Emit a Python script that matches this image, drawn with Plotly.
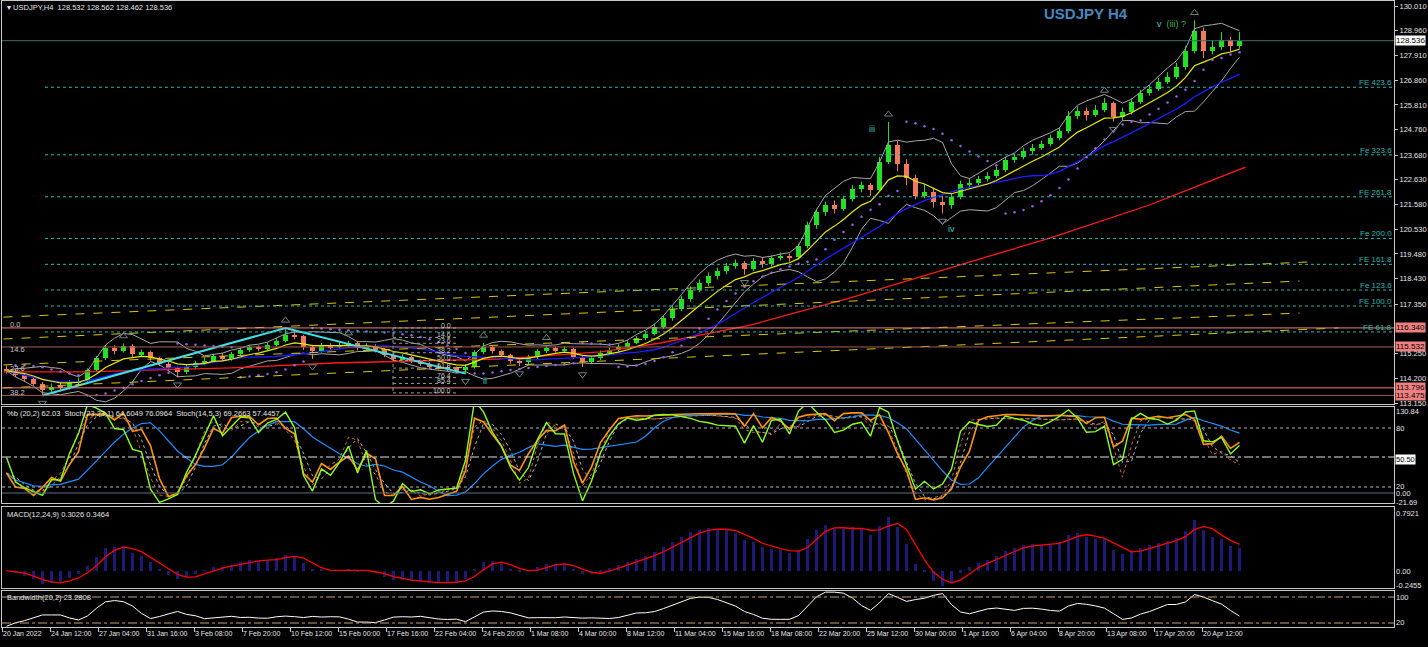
import numpy as np
import pandas as pd
import plotly.graph_objects as go

# ---------------- DATA (12-hour candles) ----------------
first_open = 114.60
closes = [114.52, 114.35, 114.18, 113.98, 113.72, 113.85, 113.80, 114.02, 114.10, 114.55,
          115.05, 115.50, 115.38, 115.58, 115.22, 115.30, 115.05, 114.82, 114.62, 114.45,
          114.70, 114.85, 114.95, 115.15, 115.02, 115.22, 115.40, 115.52, 115.45, 115.62,
          115.80, 116.05, 115.98, 115.55, 115.35, 115.60, 115.52, 115.62, 115.70, 115.48,
          115.58, 115.40, 115.18, 115.02, 115.10, 114.92, 114.82, 114.70, 114.68, 114.62,
          114.55, 114.70, 115.30, 115.52, 115.35, 115.20, 114.95, 114.88, 115.10, 115.35,
          115.48, 115.40, 115.45, 115.12, 114.90, 115.05, 115.28, 115.40, 115.55, 115.72,
          115.90, 116.10, 116.40, 116.75, 117.15, 117.55, 117.95, 118.25, 118.55, 118.75,
          118.95, 119.10, 118.85, 119.20, 119.05, 119.30, 119.40, 119.35, 119.80, 120.70,
          121.25, 121.55, 121.40, 121.80, 122.25, 122.40, 122.20, 123.40, 124.10, 123.30,
          122.70, 121.95, 122.10, 121.70, 121.55, 121.90, 122.45, 122.50, 122.65, 122.80,
          123.05, 123.45, 123.60, 123.85, 124.00, 124.15, 124.40, 124.70, 125.35, 125.55,
          125.40, 125.60, 125.90, 125.30, 125.50, 125.95, 126.30, 126.50, 126.80, 127.00,
          127.40, 128.10, 128.95, 128.10, 128.25, 128.55, 128.30, 128.536]
highs = [114.75, 114.60, 114.42, 114.25, 114.05, 113.98, 114.00, 114.12, 114.22, 114.62,
         115.15, 115.62, 115.60, 115.68, 115.65, 115.42, 115.38, 115.12, 114.90, 114.70,
         114.80, 114.95, 115.08, 115.25, 115.28, 115.32, 115.50, 115.62, 115.60, 115.72,
         115.90, 116.34, 116.25, 116.05, 115.62, 115.70, 115.68, 115.75, 115.80, 115.78,
         115.68, 115.65, 115.48, 115.25, 115.22, 115.15, 115.00, 114.88, 114.80, 114.75,
         114.70, 114.80, 115.40, 115.70, 115.60, 115.42, 115.25, 115.05, 115.20, 115.45,
         115.60, 115.55, 115.55, 115.50, 115.18, 115.15, 115.38, 115.50, 115.65, 115.82,
         116.00, 116.22, 116.52, 116.88, 117.28, 117.70, 118.10, 118.40, 118.70, 118.90,
         119.10, 119.25, 119.18, 119.30, 119.35, 119.42, 119.55, 119.50, 119.92, 120.85,
         121.40, 121.70, 121.75, 121.95, 122.40, 122.55, 122.50, 123.60, 125.09, 124.30,
         123.50, 122.85, 122.45, 122.30, 121.95, 122.05, 122.60, 122.70, 122.80, 122.95,
         123.20, 123.60, 123.75, 124.00, 124.15, 124.30, 124.55, 124.85, 125.55, 125.75,
         125.70, 125.80, 126.10, 125.95, 125.70, 126.10, 126.45, 126.65, 126.95, 127.20,
         127.60, 128.30, 129.40, 129.10, 128.55, 128.90, 128.70, 128.90]
lows = [114.40, 114.25, 114.05, 113.88, 113.47, 113.60, 113.68, 113.72, 113.90, 114.02,
        114.48, 114.98, 115.22, 115.30, 115.10, 115.12, 114.95, 114.72, 114.50, 114.25,
        114.38, 114.60, 114.75, 114.88, 114.92, 114.95, 115.15, 115.32, 115.35, 115.38,
        115.55, 115.72, 115.85, 115.40, 115.02, 115.28, 115.40, 115.45, 115.55, 115.38,
        115.40, 115.30, 115.10, 114.92, 114.95, 114.85, 114.72, 114.62, 114.58, 114.50,
        114.42, 114.40, 114.62, 115.22, 115.25, 115.10, 114.82, 114.72, 114.80, 115.02,
        115.28, 115.30, 115.32, 115.02, 114.68, 114.80, 114.98, 115.20, 115.32, 115.48,
        115.65, 115.82, 116.02, 116.30, 116.65, 117.05, 117.45, 117.85, 118.12, 118.40,
        118.62, 118.85, 118.60, 118.75, 118.90, 118.95, 119.20, 119.15, 119.25, 119.72,
        120.55, 121.10, 121.20, 121.30, 121.70, 122.10, 121.95, 122.15, 123.30, 123.00,
        122.40, 121.80, 121.85, 121.45, 121.20, 121.40, 121.80, 122.25, 122.35, 122.55,
        122.70, 122.95, 123.35, 123.50, 123.70, 123.90, 124.05, 124.30, 124.60, 125.20,
        125.15, 125.30, 125.50, 125.10, 125.15, 125.40, 125.85, 126.20, 126.40, 126.70,
        126.90, 127.30, 128.00, 127.80, 127.95, 128.15, 128.05, 128.20]

# long moving average (red), read at H4 bar numbers
red_ma_bar = [0, 27, 76, 110, 165, 199, 219, 232, 249, 265, 282, 299, 315, 332, 349, 365, 382, 399, 414]
red_ma_val = [114.47, 114.47, 114.64, 114.85, 115.02, 115.32, 115.70, 116.04, 116.46, 117.02,
              117.61, 118.25, 118.88, 119.52, 120.16, 120.84, 121.56, 122.41, 123.17]

# zigzag A-B-C (H4 bar numbers / prices)
zz_bar = [13, 94, 154]
zz_val = [113.47, 116.34, 114.40]

# Fibonacci expansion levels
fe_names = ["FE 423.6", "Fe 323.6", "FE 261.8", "Fe 200.0", "FE 161.8", "Fe 123.6", "FE 100.0", "FE 61.8"]
fe_vals = [126.56, 123.69, 121.91, 120.14, 119.04, 117.95, 117.27, 116.17]

# Fibonacci retracement (middle)
fib_ratios = [0.0, 14.6, 23.6, 38.2, 50.0, 61.8, 76.4, 85.4, 100.0]
fib_high, fib_low = 116.34, 113.58

# horizontal levels
hl_vals = [116.340, 115.532, 113.796, 113.475]
last_price = 128.536

# yellow fan lines: (bar0, price0, bar1, price1)
fan_bar0 = [0, 0, 0, 0]
fan_val0 = [116.80, 115.87, 114.77, 113.79]
fan_bar1 = [435, 432, 432, 445]
fan_val1 = [119.14, 118.33, 116.97, 116.34]

# time axis labels every 16 H4 bars
tick_labels = ["20 Jan 2022", "24 Jan 12:00", "27 Jan 04:00", "31 Jan 16:00", "3 Feb 08:00",
               "7 Feb 20:00", "10 Feb 12:00", "15 Feb 00:00", "17 Feb 16:00", "22 Feb 04:00",
               "24 Feb 20:00", "1 Mar 08:00", "4 Mar 00:00", "8 Mar 12:00", "11 Mar 04:00",
               "15 Mar 16:00", "18 Mar 08:00", "22 Mar 20:00", "25 Mar 12:00", "30 Mar 00:00",
               "1 Apr 16:00", "6 Apr 04:00", "8 Apr 20:00", "13 Apr 08:00", "17 Apr 20:00",
               "20 Apr 12:00"]
price_ticks = [130.010, 128.960, 127.910, 126.860, 125.810, 124.760, 123.680, 122.630,
               121.580, 120.530, 119.480, 118.430, 117.350, 115.250, 114.200, 113.150]

# ---------------- layout geometry ----------------
W, H = 1428, 647
ML, MR, MT, MB = 2, 34, 1, 20
PH = H - MT - MB
FONT = "Liberation Sans Narrow, Arial Narrow, Liberation Sans, Arial, sans-serif"
TXT = "#e6e6e6"
FRAME = "#c8c8c8"
FS = 7.5

def pyp(y):  # pixel row -> paper
    return (H - MB - y) / PH

def bx(px):  # pixel col -> bar
    return (px - 3.5) / 3.0

def pp(py):  # pixel row -> price (main panel)
    return 130.01 - (py - 6) / 23.55

XR = [-0.5, 463.5]

# ---------------- derived series ----------------
n = len(closes)
bars = [3 * k + 1 for k in range(n)]
opens = [first_open] + closes[:-1]
c = pd.Series(closes); hs = pd.Series(highs); ls = pd.Series(lows)

ema_y = c.ewm(span=7, adjust=False).mean()
sma_b = c.rolling(17, min_periods=1).mean()
mid = c.rolling(7, min_periods=1).mean()
sd = c.rolling(7, min_periods=2).std(ddof=0).fillna(0)
bb_up = mid + 2 * sd
bb_dn = mid - 2 * sd

def psar(h, l, step=0.02, mx=0.2):
    out = [None] * len(h)
    up = True; af = step; ep = h[0]; s = l[0]
    for i in range(1, len(h)):
        s = s + af * (ep - s)
        if up:
            s = min(s, l[i - 1], l[max(i - 2, 0)])
            if l[i] < s:
                up = False; s = ep; ep = l[i]; af = step
            elif h[i] > ep:
                ep = h[i]; af = min(af + step, mx)
        else:
            s = max(s, h[i - 1], h[max(i - 2, 0)])
            if h[i] > s:
                up = True; s = ep; ep = h[i]; af = step
            elif l[i] < ep:
                ep = l[i]; af = min(af + step, mx)
        out[i] = s
    return out

sar = psar(highs, lows)

fu_x, fu_y, fd_x, fd_y = [], [], [], []
for i in range(2, n - 2):
    if highs[i] == max(highs[i - 2:i + 3]):
        fu_x.append(bars[i]); fu_y.append(highs[i] + 0.32)
    if lows[i] == min(lows[i - 2:i + 3]):
        fd_x.append(bars[i]); fd_y.append(lows[i] - 0.32)

width_bb = (bb_up - bb_dn).replace(0, np.nan)
pct_b = ((c - bb_dn) / width_bb * 100).fillna(50)
ll8 = ls.rolling(8, min_periods=1).min(); hh8 = hs.rolling(8, min_periods=1).max()
st_main = ((c - ll8) / (hh8 - ll8) * 100).fillna(50)
st_sig = st_main.rolling(8, min_periods=1).mean()
ll5 = ls.rolling(5, min_periods=1).min(); hh5 = hs.rolling(5, min_periods=1).max()
st2_main = ((c - ll5).rolling(2, min_periods=1).sum() / (hh5 - ll5).rolling(2, min_periods=1).sum() * 100).fillna(50)
st2_sig = st2_main.rolling(2, min_periods=1).mean()

macd = c.ewm(span=4, adjust=False).mean() - c.ewm(span=8, adjust=False).mean()
macd_sig = macd.rolling(3, min_periods=1).mean()

bw = (bb_up - bb_dn) / mid * 100
bw_n = 10 + (bw - bw.min()) / (bw.max() - bw.min()) * 105

# ---------------- figure ----------------
fig = go.Figure()

bull = [cl >= op for op, cl in zip(opens, closes)]
BULL, BEAR = "#22e022", "#f27a5c"
for flag, col in ((True, BULL), (False, BEAR)):
    idx = [i for i in range(n) if bull[i] == flag]
    wx, wy = [], []
    for i in idx:
        wx += [bars[i], bars[i], None]
        wy += [lows[i], highs[i], None]
    fig.add_trace(go.Scatter(x=wx, y=wy, mode="lines", line=dict(color=col, width=1),
                             hoverinfo="skip", xaxis="x", yaxis="y"))
    fig.add_trace(go.Bar(x=[bars[i] for i in idx],
                         y=[max(abs(closes[i] - opens[i]), 0.02) for i in idx],
                         base=[min(opens[i], closes[i]) for i in idx],
                         width=1.4, marker=dict(color=col, line=dict(width=0)),
                         xaxis="x", yaxis="y"))

fig.add_trace(go.Scatter(x=bars, y=bb_up, mode="lines", line=dict(color="#a8a8a8", width=1), xaxis="x", yaxis="y"))
fig.add_trace(go.Scatter(x=bars, y=bb_dn, mode="lines", line=dict(color="#a8a8a8", width=1), xaxis="x", yaxis="y"))
fig.add_trace(go.Scatter(x=red_ma_bar, y=red_ma_val, mode="lines", line=dict(color="#ff1a1a", width=1.3), xaxis="x", yaxis="y"))
fig.add_trace(go.Scatter(x=bars, y=sma_b, mode="lines", line=dict(color="#1c1cff", width=1.3), xaxis="x", yaxis="y"))
fig.add_trace(go.Scatter(x=bars, y=ema_y, mode="lines", line=dict(color="#e8e800", width=1.2), xaxis="x", yaxis="y"))
fig.add_trace(go.Scatter(x=bars, y=sar, mode="markers", marker=dict(color="#9b5fe0", size=2.5), xaxis="x", yaxis="y"))
fig.add_trace(go.Scatter(x=fu_x, y=fu_y, mode="markers",
                         marker=dict(symbol="triangle-up-open", color="#6f7f80", size=7, line=dict(width=1)),
                         xaxis="x", yaxis="y"))
fig.add_trace(go.Scatter(x=fd_x, y=fd_y, mode="markers",
                         marker=dict(symbol="triangle-down-open", color="#6f7f80", size=7, line=dict(width=1)),
                         xaxis="x", yaxis="y"))
fig.add_trace(go.Scatter(x=zz_bar, y=zz_val, mode="lines", line=dict(color="#40e0e8", width=2), xaxis="x", yaxis="y"))

fig.add_trace(go.Scatter(x=bars, y=st2_sig, mode="lines", line=dict(color="#b0b0b0", width=1, dash="dot"), xaxis="x2", yaxis="y2"))
fig.add_trace(go.Scatter(x=bars, y=st2_main, mode="lines", line=dict(color="#d2691e", width=1, dash="dot"), xaxis="x2", yaxis="y2"))
fig.add_trace(go.Scatter(x=bars, y=st_sig, mode="lines", line=dict(color="#1e90ff", width=1.2), xaxis="x2", yaxis="y2"))
fig.add_trace(go.Scatter(x=bars, y=st_main, mode="lines", line=dict(color="#ff9410", width=1.6), xaxis="x2", yaxis="y2"))
fig.add_trace(go.Scatter(x=bars, y=pct_b, mode="lines", line=dict(color="#8cff1a", width=1.4), xaxis="x2", yaxis="y2"))

fig.add_trace(go.Bar(x=bars, y=macd, width=1.0, marker=dict(color="#1c1c78", line=dict(width=0)), xaxis="x3", yaxis="y3"))
fig.add_trace(go.Scatter(x=bars, y=macd_sig, mode="lines", line=dict(color="#ff0000", width=1.3), xaxis="x3", yaxis="y3"))

fig.add_trace(go.Scatter(x=bars, y=bw_n, mode="lines", line=dict(color="#ffffff", width=1), xaxis="x4", yaxis="y4"))

shapes = []
ann = []

for b0, v0, b1, v1 in zip(fan_bar0, fan_val0, fan_bar1, fan_val1):
    shapes.append(dict(type="line", xref="x", yref="y", x0=b0, y0=v0, x1=b1, y1=v1,
                       line=dict(color="#d8c800", width=1, dash="dash")))
for name, v in zip(fe_names, fe_vals):
    shapes.append(dict(type="line", xref="x", yref="y", x0=bx(45), x1=XR[1], y0=v, y1=v,
                       line=dict(color="#2ab8b0", width=1, dash="dot")))
    ann.append(dict(x=XR[1], y=v, xref="x", yref="y", text=name, showarrow=False,
                    xanchor="right", yanchor="bottom", yshift=-2,
                    font=dict(family=FONT, size=8, color="#2ab8b0")))
hl_cols = ["#f08080", "#a85a55", "#f08080", "#a85a55"]
for v, col in zip(hl_vals, hl_cols):
    shapes.append(dict(type="line", xref="paper", yref="y", x0=0, x1=1, y0=v, y1=v,
                       line=dict(color=col, width=1)))
    ann.append(dict(x=1, y=v, xref="paper", yref="y", text=f"{v:.3f}", showarrow=False,
                    xanchor="left", yanchor="middle", xshift=1, bgcolor="#f08080", borderpad=0,
                    font=dict(family=FONT, size=8, color="#000000")))
shapes.append(dict(type="line", xref="paper", yref="y", x0=0, x1=1, y0=last_price, y1=last_price,
                   line=dict(color="#3f6e6e", width=1)))
ann.append(dict(x=1, y=last_price, xref="paper", yref="y", text=f"{last_price:.3f}", showarrow=False,
                xanchor="left", yanchor="middle", xshift=1, bgcolor="#ffffff", borderpad=0,
                font=dict(family=FONT, size=8, color="#000000")))

fx0, fx1 = bx(393), bx(456)
shapes.append(dict(type="line", xref="x", yref="y", x0=fx0, x1=fx0, y0=fib_high, y1=fib_low,
                   line=dict(color="#9a9a9a", width=1, dash="dot")))
for r in fib_ratios:
    v = fib_high - r / 100 * (fib_high - fib_low)
    shapes.append(dict(type="line", xref="x", yref="y", x0=fx0, x1=fx1, y0=v, y1=v,
                       line=dict(color="#9a9a9a", width=1, dash="dot")))
    ann.append(dict(x=fx1 - 1, y=v, xref="x", yref="y", text=f"{r:.1f}", showarrow=False,
                    xanchor="right", yanchor="bottom", yshift=-3,
                    font=dict(family=FONT, size=7, color="#c8c8c8")))
for t, ypx in (("0.0", 324), ("14.6", 349), ("23.6", 368), ("38.2", 392)):
    ann.append(dict(x=bx(8), y=pp(ypx), xref="x", yref="y", text=t, showarrow=False,
                    xanchor="left", yanchor="middle", font=dict(family=FONT, size=FS, color="#c8c8c8")))

for t, xp, ypx, col in (("iii", 872, 129, "#3cc8b8"), ("iv", 951, 229, "#3cc8b8"),
                        ("ii", 485, 381, "#3cc8b8")):
    ann.append(dict(x=bx(xp), y=pp(ypx), xref="x", yref="y", text=t, showarrow=False,
                    yanchor="middle", font=dict(family=FONT, size=9, color=col)))
ann.append(dict(x=bx(1155), y=pp(24), xref="x", yref="y", xanchor="left", yanchor="middle",
                text="<span style='color:#3cc8b8'>v</span>  <span style='color:#3cb04a'>(iii) ?</span>",
                showarrow=False, font=dict(family=FONT, size=9, color="#3cb04a")))

ann.append(dict(x=bx(1042), y=pyp(13), xref="x", yref="paper", text="<b>USDJPY H4</b>", showarrow=False,
                xanchor="left", yanchor="middle",
                font=dict(family="Liberation Sans, Arial, sans-serif", size=15, color="#4a86bd")))
for t, ypx in (("\u25BE USDJPY,H4  128.532 128.562 128.462 128.536", 7),
               ("%b (20,2) 62.03  Stoch(23,23,1) 64.6049 76.0964  Stoch(14,5,3) 69.2663 57.4457", 413),
               ("MACD(12,24,9) 0.3026 0.3464", 514),
               ("Bandwidth(20,2) 23.2808", 597)):
    ann.append(dict(x=0.002, y=pyp(ypx), xref="paper", yref="paper", text=t, showarrow=False,
                    xanchor="left", yanchor="middle", font=dict(family=FONT, size=FS, color=TXT)))

for t, ypx, box in (("130.84", 412, False), ("80", 428, False), ("50.50", 459, True),
                    ("20", 486, False), ("0.00", 493, False), ("-21.69", 502, False),
                    ("0.7921", 513, False), ("0.00", 571, False), ("-0.2455", 585, False),
                    ("100", 597, False), ("20", 622, False)):
    ann.append(dict(x=1, y=pyp(ypx), xref="paper", yref="paper", text=t, showarrow=False,
                    xanchor="left", yanchor="middle", xshift=1, borderpad=0,
                    bgcolor="#ffffff" if box else None,
                    font=dict(family=FONT, size=FS, color="#000000" if box else TXT)))

S_LO, S_HI = 3.73, 101.36
for v, dash, col in ((80, "dot", "#b4b4b4"), (50.5, "dashdot", "#e0e0e0"), (20, "dot", "#b4b4b4"),
                     (13.9, "solid", "#5d7080")):
    shapes.append(dict(type="line", xref="paper", yref="y2", x0=0, x1=1, y0=v, y1=v,
                       line=dict(color=col, width=1, dash=dash)))
for v in (100, 20):
    shapes.append(dict(type="line", xref="paper", yref="y4", x0=0, x1=1, y0=v, y1=v,
                       line=dict(color="#c8a070", width=1, dash="dashdot")))

def dom(top, bot):
    return [pyp(bot), pyp(top)]

axis_common = dict(showgrid=False, zeroline=False, showline=True, mirror=True, linecolor=FRAME, linewidth=1)
fig.update_layout(
    width=W, height=H, margin=dict(l=ML, r=MR, t=MT, b=MB),
    paper_bgcolor="#000000", plot_bgcolor="#000000",
    showlegend=False, barmode="overlay", bargap=0,
    font=dict(family=FONT, size=FS, color=TXT),
    xaxis=dict(domain=[0, 1], anchor="y", range=XR, showticklabels=False, **axis_common),
    xaxis2=dict(domain=[0, 1], anchor="y2", range=XR, matches="x", showticklabels=False, **axis_common),
    xaxis3=dict(domain=[0, 1], anchor="y3", range=XR, matches="x", showticklabels=False, **axis_common),
    xaxis4=dict(domain=[0, 1], anchor="y4", range=XR, matches="x",
                tickvals=[16 * j - 0.5 for j in range(len(tick_labels))], ticktext=tick_labels,
                ticks="outside", ticklen=4, tickcolor=FRAME, ticklabelposition="outside right",
                tickangle=0, tickfont=dict(family=FONT, size=7, color=TXT), **axis_common),
    yaxis=dict(domain=dom(1, 404), anchor="x", side="right", range=[pp(404), pp(1)],
               tickvals=price_ticks, ticktext=[f"{v:.3f}" for v in price_ticks],
               ticks="outside", ticklen=3, tickcolor=FRAME,
               tickfont=dict(family=FONT, size=FS, color=TXT), **axis_common),
    yaxis2=dict(domain=dom(407, 503), anchor="x2", side="right", range=[S_LO, S_HI],
                showticklabels=False, **axis_common),
    yaxis3=dict(domain=dom(507, 588), anchor="x3", side="right", range=[-0.2387, 0.879],
                showticklabels=False, **axis_common),
    yaxis4=dict(domain=dom(591, 627), anchor="x4", side="right", range=[7.7, 118.5],
                showticklabels=False, **axis_common),
    shapes=shapes, annotations=ann,
)

fig.write_html("out.html", config={"displayModeBar": False},
               post_script="document.body.style.margin='0px';document.body.style.overflow='hidden';")
